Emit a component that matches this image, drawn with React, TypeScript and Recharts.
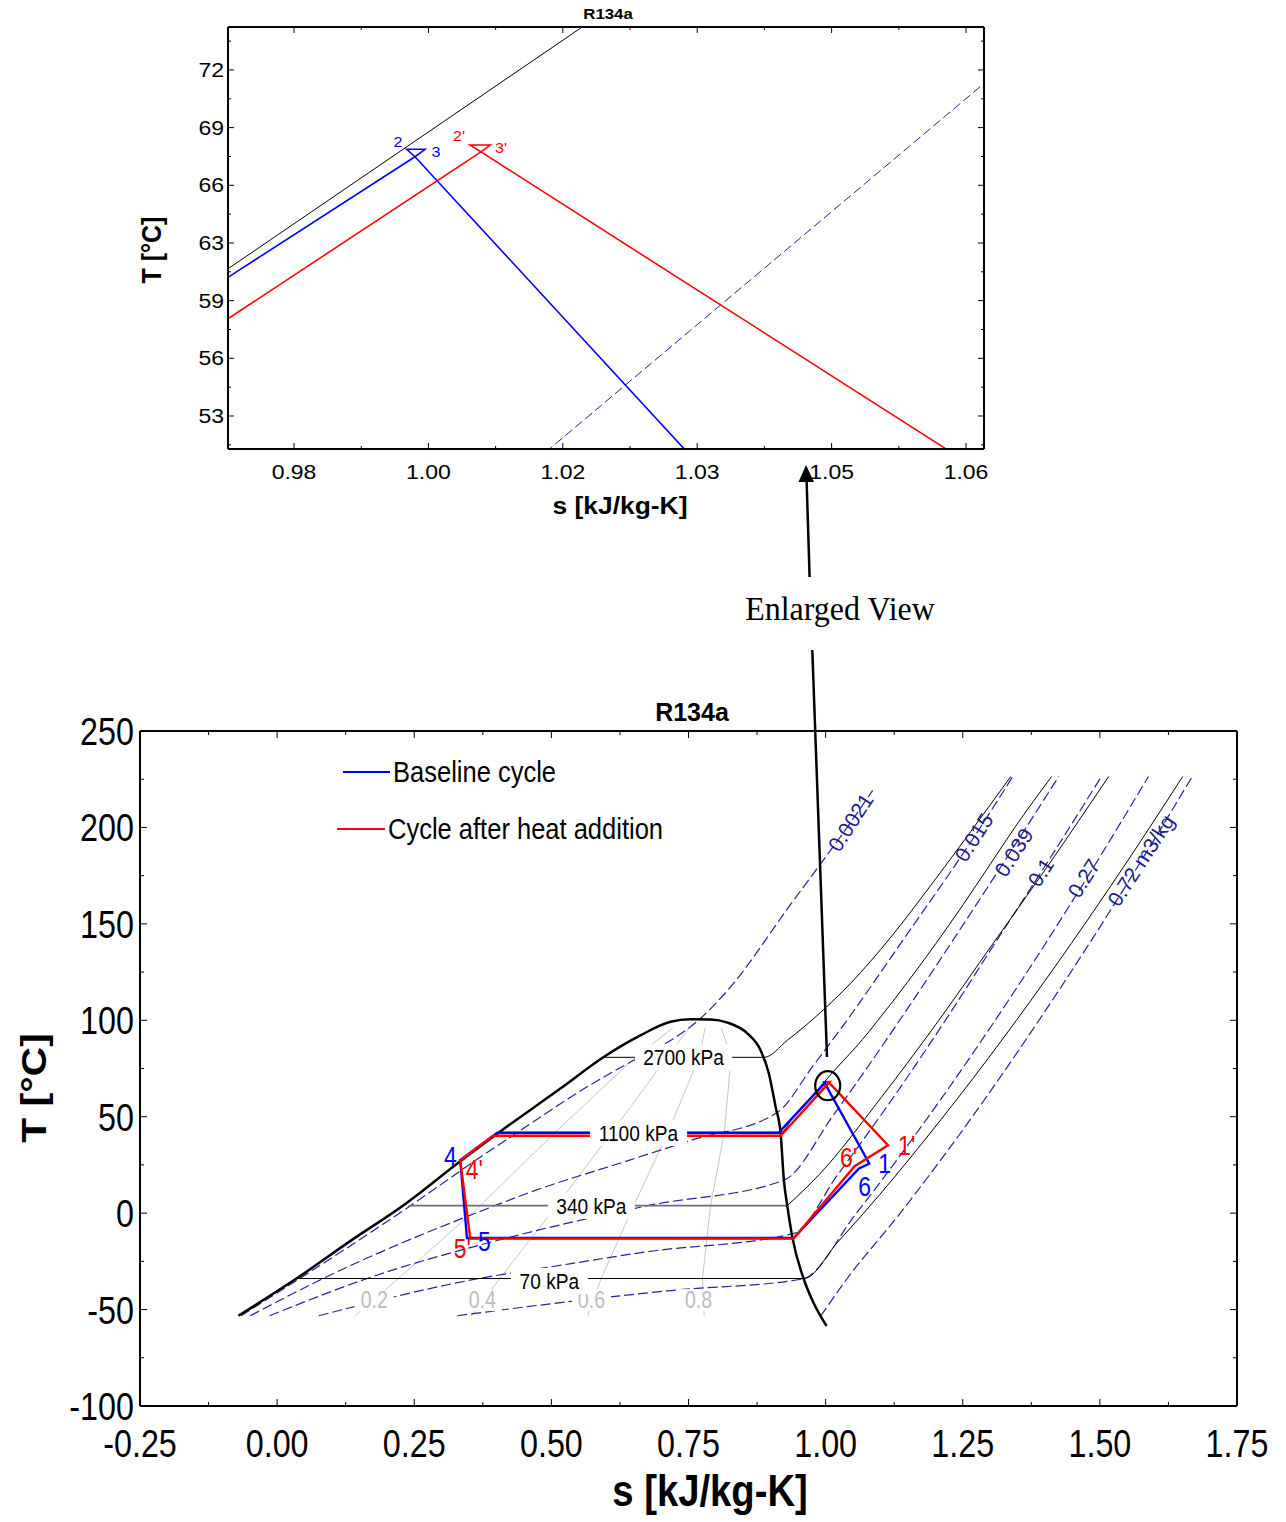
import React from 'react';
import { ComposedChart, Line, Scatter, XAxis, YAxis } from 'recharts';

type Pt = [number, number];

// ---------- saturation dome (s [kJ/kg-K], T [°C]) ----------
const satDome: Pt[] = [
  [-0.0706, -53.2], [0.0359, -33.8], [0.1332, -14.5], [0.2305, 4.1], [0.3339, 26.9],
  [0.4099, 43.0], [0.5164, 64.6], [0.5954, 81.0], [0.6624, 92.2], [0.7172, 99.2],
  [0.7536, 100.5], [0.7901, 100.4], [0.8212, 98.8], [0.8577, 93.1], [0.8814, 84.5],
  [0.8965, 72.4], [0.9088, 55.1], [0.9179, 41.5], [0.9239, 17.1], [0.9301, 3.9],
  [0.9392, -12.3], [0.9604, -34.4], [0.9781, -46.6], [1.0018, -58.5],
];

// ---------- isobars ----------
const isobar2700: Pt[] = [
  [0.5954, 80.8], [0.888, 80.8], [0.9301, 89.6], [0.9909, 104.1], [1.0456, 119.2],
  [1.1186, 143.0], [1.1916, 169.9], [1.2646, 197.9], [1.3376, 226.4],
];
const isobar1100: Pt[] = [
  [0.405, 41.9], [0.918, 41.9], [0.9408, 50], [0.976, 61.05], [1.018, 74.62], [1.0671, 90],
  [1.0955, 100], [1.1499, 120], [1.2015, 140], [1.2508, 160], [1.298, 180], [1.345, 200], [1.412, 226.4],
];
const isobar340Wet: Pt[] = [[0.2396, 3.9], [0.9301, 3.9]];
const isobar340Dry: Pt[] = [
  [0.9301, 3.9], [0.9883, 20], [1.1014, 60], [1.2064, 100], [1.3057, 140], [1.405, 180], [1.516, 226.4],
];
const isobar70: Pt[] = [
  [0.0359, -33.9], [0.9604, -33.9], [1.022, -15], [1.0694, 0], [1.1865, 40], [1.2957, 80],
  [1.3987, 120], [1.4968, 160], [1.5908, 200], [1.651, 226.4],
];

// ---------- isochores (m3/kg) ----------
const vol0021: Pt[] = [
  [-0.066, -53.2], [0.0405, -34.0], [0.244, 4.0], [0.36, 27.0], [0.439, 42.0], [0.518, 57.0],
  [0.56, 64.6], [0.661, 81.0], [0.732, 92.2], [0.77, 100.5], [0.8212, 115.5], [0.9361, 160.1],
  [1.0456, 202.6], [1.0858, 219.2],
];
const vol015: Pt[] = [
  [-0.049, -53.2], [0.083, -34.0], [0.398, 4.0], [0.463, 11.0], [0.637, 27.0], [0.755, 37.8],
  [0.9124, 52.3], [0.9757, 75.8], [1.0456, 102.6], [1.1369, 139.9], [1.2701, 194.8], [1.3412, 226.4],
];
const vol039: Pt[] = [
  [-0.0137, -53.2], [0.163, -34.0], [0.427, -12.3], [0.678, 4.0], [0.9239, 17.1], [1.0144, 50.94],
  [1.0663, 71.6], [1.135, 100], [1.2287, 140], [1.3204, 180], [1.425, 226.4],
];
const vol1: Pt[] = [
  [0.0759, -53.2], [0.366, -34.0], [0.5, -27.8], [0.675, -20.0], [0.9421, -10.5], [1.0221, 20],
  [1.1235, 60], [1.2184, 100], [1.3088, 140], [1.4001, 180], [1.5028, 226.4],
];
const vol27: Pt[] = [
  [0.3285, -53.2], [0.456, -48.5], [0.7226, -40.0], [0.957, -34.2], [1.0561, 0], [1.162, 40],
  [1.2614, 80], [1.3557, 120], [1.4459, 160], [1.5327, 200], [1.5885, 226.4],
];
const vol72: Pt[] = [
  [0.9909, -53.4], [1.038, -34.4], [1.136, 0], [1.2421, 40], [1.3413, 80], [1.4356, 120],
  [1.5259, 160], [1.6126, 200], [1.6685, 226.4],
];

// ---------- quality lines ----------
const quality02: Pt[] = [[0.1417, -53.2], [0.2208, -34.0], [0.3704, 4.0], [0.5076, 42.0], [0.6535, 81.0], [0.7214, 96.0]];
const quality04: Pt[] = [[0.354, -53.2], [0.4057, -34.0], [0.5103, 4.0], [0.6102, 42.0], [0.7116, 81.0], [0.7508, 96.0]];
const quality06: Pt[] = [[0.5662, -53.2], [0.5906, -34.0], [0.6503, 4.0], [0.7128, 42.0], [0.7696, 81.0], [0.7803, 96.0]];
const quality08: Pt[] = [[0.7785, -53.2], [0.7755, -34.0], [0.7902, 4.0], [0.8154, 42.0], [0.8277, 81.0], [0.8097, 96.0]];

// ---------- cycles ----------
const baselineCycle: Pt[] = [
  [0.4015, 41.7], [0.3339, 27.5], [0.3461, -12.9], [0.9416, -12.9], [1.0608, 23.2], [1.0795, 25.6],
  [1.0755, 27.8], [0.9984, 67.41], [0.99742, 67.83], [0.9996, 67.83], [0.9984, 67.41],
  [0.9142, 41.7], [0.4015, 41.7],
];
const heatAddedCycle: Pt[] = [
  [0.3936, 40.1], [0.3339, 27.3], [0.3522, -13.2], [0.9416, -13.2], [1.0529, 24.35], [1.1137, 35.2],
  [1.00626, 67.68], [1.00495, 68.07], [1.00733, 68.07], [1.00626, 67.68], [0.9179, 40.1], [0.3936, 40.1],
];

// ---------- labels ----------
const baselineLabels = [
  { s: 0.3157, T: 29.5, text: '4' }, { s: 0.3777, T: -14.5, text: '5' },
  { s: 1.0712, T: 14.0, text: '6' }, { s: 1.1077, T: 25.9, text: '1' },
];
const heatLabels = [
  { s: 0.3595, T: 22.8, text: "4'" }, { s: 0.3376, T: -18.1, text: "5'" },
  { s: 1.042, T: 29.0, text: "6'" }, { s: 1.1478, T: 35.2, text: "1'" },
];
const zoomBaselineLabels = [{ s: 0.99638, T: 68.24, text: '2' }, { s: 1.0009, T: 67.68, text: '3' }];
const zoomHeatLabels = [{ s: 1.00364, T: 68.58, text: "2'" }, { s: 1.00864, T: 67.9, text: "3'" }];
const isobarLabels = [
  { s: 0.741, T: 80.8, text: '2700 kPa' }, { s: 0.6588, T: 41.6, text: '1100 kPa' },
  { s: 0.573, T: 3.7, text: '340 kPa' }, { s: 0.4964, T: -35.2, text: '70 kPa' },
];
const qualityLabels = [
  { s: 0.177, T: -45.1, text: '0.2' }, { s: 0.3741, T: -45.1, text: '0.4' },
  { s: 0.573, T: -45.1, text: '0.6' }, { s: 0.7682, T: -45.1, text: '0.8' },
];
const volumeLabels = [
  { s: 1.0456, T: 202.6, text: '0.0021' }, { s: 1.2701, T: 194.8, text: '0.015' },
  { s: 1.3431, T: 187.0, text: '0.039' }, { s: 1.3923, T: 176.7, text: '0.1' },
  { s: 1.4708, T: 173.6, text: '0.27' }, { s: 1.5748, T: 182.9, text: '0.72 m3/kg' },
];
const zoomMarker = [{ s: 1.0038, T: 66.1 }];

// ---------- axes ----------
const mainXMajor = [-0.25, 0, 0.25, 0.5, 0.75, 1, 1.25, 1.5, 1.75];
const mainXMinor = [-0.125, 0.125, 0.375, 0.625, 0.875, 1.125, 1.375, 1.625];
const mainYMajor = [-100, -50, 0, 50, 100, 150, 200, 250];
const mainYMinor = [-75, -25, 25, 75, 125, 175, 225];
const zoomXMajor = [0.984, 1.0, 1.016, 1.032, 1.048, 1.064];
const zoomXMinor = [0.992, 1.008, 1.024, 1.04, 1.056];
const zoomYMajor = [52.8, 56.05, 59.3, 62.55, 65.8, 69.05, 72.3];
const zoomYMinor = [51.175, 54.425, 57.675, 60.925, 64.175, 67.425, 70.675, 73.925];

const SANS = '"Liberation Sans", Arial, Helvetica, sans-serif';
const SERIF = '"Liberation Serif", "Times New Roman", serif';
const NAVY = '#23239b';
const GRAY = '#c6c6c6';

const rows = (a: Pt[]) => a.map(([s, T]) => ({ s, T }));
const sorted = (a: number[], b: number[]) => [...a, ...b].sort((p, q) => p - q);

interface LineSpec {
  name: string; data: Pt[]; stroke: string; w: number; zw: number; dash?: string; zdash?: string; curve: 'linear' | 'monotone';
}

const lineSpecs: LineSpec[] = [
  { name: 'q02', data: quality02, stroke: GRAY, w: 1, zw: 1, curve: 'linear' },
  { name: 'q04', data: quality04, stroke: GRAY, w: 1, zw: 1, curve: 'linear' },
  { name: 'q06', data: quality06, stroke: GRAY, w: 1, zw: 1, curve: 'linear' },
  { name: 'q08', data: quality08, stroke: GRAY, w: 1, zw: 1, curve: 'linear' },
  { name: 'v0021', data: vol0021, stroke: NAVY, w: 1.2, zw: 1, dash: '10 4', zdash: '9 4', curve: 'monotone' },
  { name: 'v015', data: vol015, stroke: NAVY, w: 1.2, zw: 1, dash: '10 4', zdash: '9 4', curve: 'monotone' },
  { name: 'v039', data: vol039, stroke: NAVY, w: 1.2, zw: 1, dash: '10 4', zdash: '9 4', curve: 'monotone' },
  { name: 'v1', data: vol1, stroke: NAVY, w: 1.2, zw: 1, dash: '10 4', zdash: '9 4', curve: 'monotone' },
  { name: 'v27', data: vol27, stroke: NAVY, w: 1.2, zw: 1, dash: '10 4', zdash: '9 4', curve: 'monotone' },
  { name: 'v72', data: vol72, stroke: NAVY, w: 1.2, zw: 1, dash: '10 4', zdash: '9 4', curve: 'monotone' },
  { name: 'p70', data: isobar70, stroke: '#000', w: 1, zw: 1, curve: 'monotone' },
  { name: 'p340w', data: isobar340Wet, stroke: '#6e6e6e', w: 1.6, zw: 1, curve: 'linear' },
  { name: 'p340d', data: isobar340Dry, stroke: '#000', w: 1, zw: 1, curve: 'monotone' },
  { name: 'p1100', data: isobar1100, stroke: '#000', w: 1, zw: 1, curve: 'monotone' },
  { name: 'p2700', data: isobar2700, stroke: '#000', w: 1, zw: 1, curve: 'monotone' },
  { name: 'dome', data: satDome, stroke: '#000', w: 2.5, zw: 1.5, curve: 'monotone' },
  { name: 'baseline', data: baselineCycle, stroke: '#0000ff', w: 2.4, zw: 1.6, curve: 'linear' },
  { name: 'heat', data: heatAddedCycle, stroke: '#ff0000', w: 2.4, zw: 1.6, curve: 'linear' },
];

const renderLines = (zoom: boolean) =>
  lineSpecs.map((sp) => (
    <Line
      key={sp.name}
      xAxisId="b"
      yAxisId="l"
      data={rows(sp.data)}
      dataKey="T"
      type={zoom ? 'linear' : sp.curve}
      stroke={sp.stroke}
      strokeWidth={zoom ? sp.zw : sp.w}
      strokeDasharray={zoom ? sp.zdash : sp.dash}
      dot={false}
      activeDot={false}
      isAnimationActive={false}
      legendType="none"
    />
  ));

interface TickCfg {
  side: 'bottom' | 'top' | 'left' | 'right';
  majors: number[]; majorLen: number; minorLen: number;
  fs?: number; sx?: number; gap?: number; base?: number; fmt?: (v: number) => string;
}

const makeTick = (c: TickCfg) => (props: any) => {
  const { x, y, payload } = props;
  const v: number = payload.value;
  const major = c.majors.some((m) => Math.abs(m - v) < 1e-7);
  const len = major ? c.majorLen : c.minorLen;
  let x2 = x;
  let y2 = y;
  if (c.side === 'bottom') y2 = y - len;
  else if (c.side === 'top') y2 = y + len;
  else if (c.side === 'left') x2 = x + len;
  else x2 = x - len;
  let label: React.ReactNode = null;
  if (major && c.fmt) {
    if (c.side === 'bottom') {
      label = (
        <text transform={`translate(${x},${y + (c.base || 0)}) scale(${c.sx},1)`} textAnchor="middle"
          fontSize={c.fs} fontFamily={SANS} fill="#000">{c.fmt(v)}</text>
      );
    } else if (c.side === 'left') {
      label = (
        <text transform={`translate(${x - (c.gap || 0)},${y + (c.base || 0)}) scale(${c.sx},1)`} textAnchor="end"
          fontSize={c.fs} fontFamily={SANS} fill="#000">{c.fmt(v)}</text>
      );
    }
  }
  return (
    <g>
      <line x1={x} y1={y} x2={x2} y2={y2} stroke="#000" strokeWidth={1} />
      {label}
    </g>
  );
};

interface TextCfg { fs: number; sx: number; color: string; rotate?: number; box?: boolean; boxH?: number; pad?: number; }
const textShape = (o: TextCfg) => (props: any) => {
  const { cx, cy, payload } = props;
  if (!Number.isFinite(cx) || !Number.isFinite(cy)) return <g />;
  const t: string = payload.text;
  const w = t.length * o.fs * o.sx * 0.53 + (o.pad || 0);
  return (
    <g>
      {o.box && <rect x={cx - w / 2} y={cy - (o.boxH || 20) / 2} width={w} height={o.boxH} fill="#fff" />}
      <text transform={`translate(${cx},${cy}) rotate(${o.rotate || 0}) scale(${o.sx},1)`} textAnchor="middle"
        dy="0.35em" fontSize={o.fs} fill={o.color} fontFamily={SANS}>{t}</text>
    </g>
  );
};

const markerShape = (props: any) => {
  const { cx, cy } = props;
  if (!Number.isFinite(cx) || !Number.isFinite(cy)) return <g />;
  return <ellipse cx={cx} cy={cy} rx={12.5} ry={14.5} fill="none" stroke="#000" strokeWidth={2.2} />;
};

const axisLine = { stroke: '#000', strokeWidth: 2 };

function MainChart() {
  const xTicks = sorted(mainXMajor, mainXMinor);
  const yTicks = sorted(mainYMajor, mainYMinor);
  return (
    <ComposedChart width={1286} height={842} margin={{ top: 41, right: 39, bottom: 56, left: 40 }}>
      <XAxis xAxisId="b" type="number" dataKey="s" domain={[-0.25, 1.75]} allowDataOverflow ticks={xTicks}
        interval={0} tickLine={false} tickSize={0} tickMargin={0} height={60} axisLine={axisLine}
        tick={makeTick({ side: 'bottom', majors: mainXMajor, majorLen: 7, minorLen: 4, fs: 38, sx: 0.85, base: 51, fmt: (v) => v.toFixed(2) })} />
      <XAxis xAxisId="t" orientation="top" type="number" dataKey="s" domain={[-0.25, 1.75]} allowDataOverflow ticks={xTicks}
        interval={0} tickLine={false} tickSize={0} tickMargin={0} height={10} axisLine={axisLine}
        tick={makeTick({ side: 'top', majors: mainXMajor, majorLen: 7, minorLen: 4 })} />
      <YAxis yAxisId="l" type="number" dataKey="T" domain={[-100, 250]} allowDataOverflow ticks={yTicks}
        interval={0} tickLine={false} tickSize={0} tickMargin={0} width={100} axisLine={axisLine}
        tick={makeTick({ side: 'left', majors: mainYMajor, majorLen: 7, minorLen: 4, fs: 38, sx: 0.85, gap: 6, base: 14, fmt: (v) => String(v) })} />
      <YAxis yAxisId="r" orientation="right" type="number" dataKey="T" domain={[-100, 250]} allowDataOverflow ticks={yTicks}
        interval={0} tickLine={false} tickSize={0} tickMargin={0} width={10} axisLine={axisLine}
        tick={makeTick({ side: 'right', majors: mainYMajor, majorLen: 7, minorLen: 4 })} />
      {renderLines(false)}
      <Scatter xAxisId="b" yAxisId="l" data={volumeLabels} dataKey="T" isAnimationActive={false} legendType="none"
        shape={textShape({ fs: 21, sx: 1, color: '#1b1b86', rotate: -57 })} />
      <Scatter xAxisId="b" yAxisId="l" data={qualityLabels} dataKey="T" isAnimationActive={false} legendType="none"
        shape={textShape({ fs: 23, sx: 0.85, color: '#bcbcbc', box: true, boxH: 22, pad: 8 })} />
      <Scatter xAxisId="b" yAxisId="l" data={isobarLabels} dataKey="T" isAnimationActive={false} legendType="none"
        shape={textShape({ fs: 22, sx: 0.87, color: '#000', box: true, boxH: 26, pad: 16 })} />
      <Scatter xAxisId="b" yAxisId="l" data={baselineLabels} dataKey="T" isAnimationActive={false} legendType="none"
        shape={textShape({ fs: 27, sx: 0.85, color: '#0000ff' })} />
      <Scatter xAxisId="b" yAxisId="l" data={heatLabels} dataKey="T" isAnimationActive={false} legendType="none"
        shape={textShape({ fs: 27, sx: 0.85, color: '#ff0000' })} />
      <Scatter xAxisId="b" yAxisId="l" data={zoomMarker} dataKey="T" isAnimationActive={false} legendType="none"
        shape={markerShape} />
    </ComposedChart>
  );
}

function ZoomChart() {
  const xTicks = sorted(zoomXMajor, zoomXMinor);
  const yTicks = sorted(zoomYMajor, zoomYMinor);
  const xd: [number, number] = [0.97614, 1.06614];
  const yd: [number, number] = [50.94, 74.72];
  return (
    <ComposedChart width={1286} height={530} margin={{ top: 17, right: 292, bottom: 41, left: 168 }}>
      <XAxis xAxisId="b" type="number" dataKey="s" domain={xd} allowDataOverflow ticks={xTicks}
        interval={0} tickLine={false} tickSize={0} tickMargin={0} height={40} axisLine={axisLine}
        tick={makeTick({ side: 'bottom', majors: zoomXMajor, majorLen: 6, minorLen: 3, fs: 19.5, sx: 1.18, base: 30, fmt: (v) => v.toFixed(2) })} />
      <XAxis xAxisId="t" orientation="top" type="number" dataKey="s" domain={xd} allowDataOverflow ticks={xTicks}
        interval={0} tickLine={false} tickSize={0} tickMargin={0} height={10} axisLine={axisLine}
        tick={makeTick({ side: 'top', majors: zoomXMajor, majorLen: 6, minorLen: 3 })} />
      <YAxis yAxisId="l" type="number" dataKey="T" domain={yd} allowDataOverflow ticks={yTicks}
        interval={0} tickLine={false} tickSize={0} tickMargin={0} width={60} axisLine={axisLine}
        tick={makeTick({ side: 'left', majors: zoomYMajor, majorLen: 6, minorLen: 3, fs: 19.5, sx: 1.18, gap: 4, base: 7, fmt: (v) => v.toFixed(0) })} />
      <YAxis yAxisId="r" orientation="right" type="number" dataKey="T" domain={yd} allowDataOverflow ticks={yTicks}
        interval={0} tickLine={false} tickSize={0} tickMargin={0} width={10} axisLine={axisLine}
        tick={makeTick({ side: 'right', majors: zoomYMajor, majorLen: 6, minorLen: 3 })} />
      {renderLines(true)}
      <Scatter xAxisId="b" yAxisId="l" data={zoomBaselineLabels} dataKey="T" isAnimationActive={false} legendType="none"
        shape={textShape({ fs: 14, sx: 1.15, color: '#0000ff' })} />
      <Scatter xAxisId="b" yAxisId="l" data={zoomHeatLabels} dataKey="T" isAnimationActive={false} legendType="none"
        shape={textShape({ fs: 14, sx: 1.15, color: '#ff0000' })} />
    </ComposedChart>
  );
}

function Overlay() {
  return (
    <svg width={1286} height={1522} style={{ position: 'absolute', left: 0, top: 0, pointerEvents: 'none' }}>
      {/* zoom chart texts */}
      <text transform="translate(608,19) scale(1.2,1)" textAnchor="middle" fontSize={14} fontWeight="bold" fontFamily={SANS}>R134a</text>
      <text transform="translate(620,514) scale(1.1,1)" textAnchor="middle" fontSize={24} fontWeight="bold" fontFamily={SANS}>s [kJ/kg-K]</text>
      <text transform="translate(161,250) scale(1.1,1) rotate(-90)" textAnchor="middle" fontSize={25} fontWeight="bold" fontFamily={SANS}>T [°C]</text>
      {/* main chart texts */}
      <text x={692} y={721} textAnchor="middle" fontSize={25} fontWeight="bold" fontFamily={SANS}>R134a</text>
      <text transform="translate(710,1506) scale(0.85,1)" textAnchor="middle" fontSize={45} fontWeight="bold" fontFamily={SANS}>s [kJ/kg-K]</text>
      <text transform="translate(46,1088) scale(0.85,1) rotate(-90)" textAnchor="middle" fontSize={41} fontWeight="bold" fontFamily={SANS}>T [°C]</text>
      {/* legend */}
      <line x1={343} y1={772} x2={390} y2={772} stroke="#0000ff" strokeWidth={2} />
      <text transform="translate(393,782) scale(0.88,1)" fontSize={29} fontFamily={SANS}>Baseline cycle</text>
      <line x1={337} y1={829} x2={385} y2={829} stroke="#ff0000" strokeWidth={2} />
      <text transform="translate(388,839) scale(0.88,1)" fontSize={29} fontFamily={SANS}>Cycle after heat addition</text>
      {/* enlarged view arrow */}
      <line x1={827} y1={1057} x2={812.3} y2={650} stroke="#000" strokeWidth={2.5} />
      <line x1={809.6} y1={577} x2={806.6} y2={480} stroke="#000" strokeWidth={2.5} />
      <polygon points="806,465 798.5,482 814,482" fill="#000" />
      <text transform="translate(840,620) scale(0.97,1)" textAnchor="middle" fontSize={33} fontFamily={SERIF}>Enlarged View</text>
    </svg>
  );
}

export default function App() {
  return (
    <div style={{ position: 'absolute', left: 0, top: 0, width: 1286, height: 1522, background: '#fff' }}>
      <div style={{ position: 'absolute', left: 0, top: 0 }}>
        <ZoomChart />
      </div>
      <div style={{ position: 'absolute', left: 0, top: 680 }}>
        <MainChart />
      </div>
      <Overlay />
    </div>
  );
}
